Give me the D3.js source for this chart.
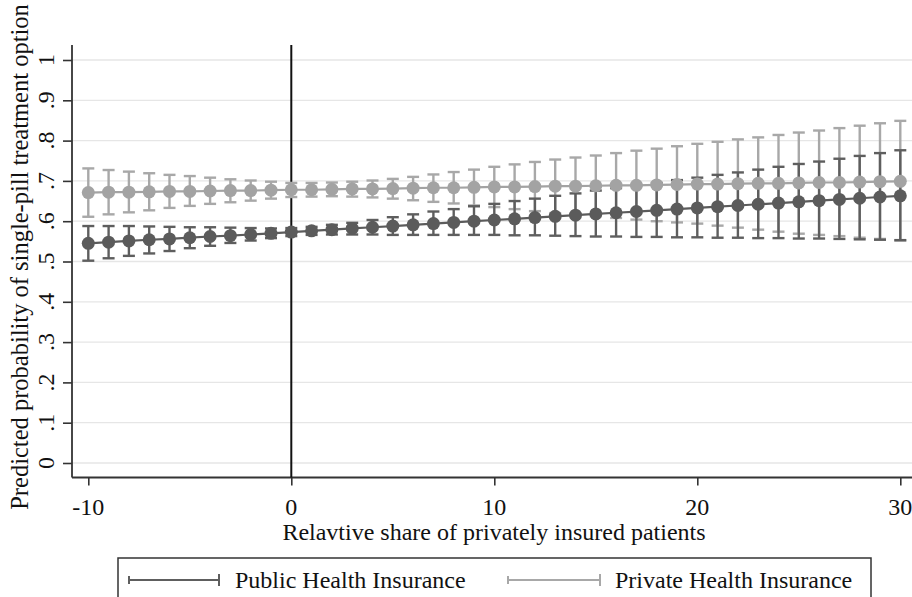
<!DOCTYPE html>
<meta charset="utf-8">
<head>
<style>
  body { margin: 0; background: #fff; }
  svg text { font-family: "Liberation Serif", "Times New Roman", serif; fill: #111; }
</style>
</head>
<body>
<div id="chart"></div>
<script src="https://d3js.org/d3.v7.min.js"></script>
<script>
// x values: relative share of privately insured patients
var shares = d3.range(-10, 31);

// Public Health Insurance (dark)
var publicMean = [.545,.548,.551,.554,.556,.559,.562,.564,.567,.570,
                  .573,.576,.579,.582,.585,.588,.591,.594,.597,.600,
                  .603,.606,.609,.612,.615,.618,.621,.624,.627,.630,
                  .633,.636,.639,.642,.645,.648,.651,.654,.657,.660,.663];
var publicLow  = [.502,.508,.514,.520,.526,.533,.539,.546,.552,.558,
                  .563,.566,.567,.567,.567,.566,.566,.566,.566,.566,
                  .566,.565,.565,.564,.563,.562,.562,.561,.561,.560,
                  .560,.559,.559,.558,.558,.557,.557,.556,.555,.554,.553];
var publicHigh = [.588,.588,.588,.587,.586,.585,.585,.584,.583,.582,
                  .583,.586,.591,.596,.603,.610,.617,.624,.630,.637,
                  .643,.650,.656,.663,.669,.676,.682,.689,.695,.702,
                  .708,.715,.721,.728,.735,.742,.748,.755,.762,.769,.776];

// Private Health Insurance (light)
var privateMean = [.671,.672,.672,.673,.674,.674,.675,.676,.676,.677,
                   .678,.678,.679,.680,.680,.681,.682,.683,.683,.684,
                   .685,.685,.686,.687,.687,.688,.689,.689,.690,.691,
                   .692,.692,.693,.694,.694,.695,.696,.696,.697,.698,.699];
var privateLow  = [.611,.617,.622,.627,.633,.638,.643,.647,.651,.656,
                   .660,.661,.662,.661,.659,.656,.652,.648,.644,.639,
                   .635,.630,.625,.620,.616,.612,.608,.604,.600,.597,
                   .594,.589,.584,.579,.574,.569,.566,.563,.559,.556,.552];
var privateHigh = [.731,.727,.723,.719,.715,.712,.708,.704,.701,.698,
                   .695,.695,.696,.698,.701,.705,.710,.716,.722,.728,
                   .735,.741,.747,.753,.758,.763,.769,.775,.780,.786,
                   .792,.797,.803,.808,.814,.820,.825,.831,.837,.843,.849];

var yTicks = [0, .1, .2, .3, .4, .5, .6, .7, .8, .9, 1];
var yTickLabels = ["0", ".1", ".2", ".3", ".4", ".5", ".6", ".7", ".8", ".9", "1"];
var xTicks = [-10, 0, 10, 20, 30];
var seriesNames = ["Public Health Insurance", "Private Health Insurance"];

var W = 912, H = 597;
var plot = {left: 72, top: 45, bottom: 477.5, right: 912};
var fs = "24px";

var series = [
  {name: seriesNames[0], mean: publicMean, low: publicLow, high: publicHigh, color: "#5b5b5b", ci: "#5e5e5e"},
  {name: seriesNames[1], mean: privateMean, low: privateLow, high: privateHigh, color: "#a3a3a3", ci: "#a8a8a8"}
];

var svg = d3.select("#chart").append("svg")
  .attr("width", W).attr("height", H);

var x = d3.scaleLinear().domain([-10, 30]).range([88.3, 900.3]);
var y = d3.scaleLinear().domain([0, 1]).range([463, 60]);

// gridlines
svg.append("g").selectAll("line")
  .data(yTicks)
  .enter().append("line")
    .attr("x1", plot.left).attr("x2", plot.right)
    .attr("y1", function(d) { return y(d); })
    .attr("y2", function(d) { return y(d); })
    .attr("stroke", "#e6e6e6")
    .attr("stroke-width", 1.3);

// y axis
var yAxis = svg.append("g")
  .attr("transform", "translate(" + plot.left + ",0)")
  .call(d3.axisLeft(y).tickValues(yTicks).tickSize(9).tickFormat(""));
yAxis.select(".domain").remove();
yAxis.selectAll(".tick line").attr("stroke", "#333").attr("stroke-width", 1.6);
svg.append("line")
  .attr("x1", plot.left).attr("x2", plot.left)
  .attr("y1", plot.top).attr("y2", plot.bottom)
  .attr("stroke", "#333").attr("stroke-width", 1.8);

svg.append("g").selectAll("text")
  .data(yTicks)
  .enter().append("text")
    .attr("transform", function(d) { return "translate(54," + y(d) + ") rotate(-90)"; })
    .attr("text-anchor", "middle")
    .style("font-size", fs)
    .text(function(d, i) { return yTickLabels[i]; });

// x axis
var xAxis = svg.append("g")
  .attr("transform", "translate(0," + plot.bottom + ")")
  .call(d3.axisBottom(x).tickValues(xTicks).tickSize(8).tickFormat(""));
xAxis.select(".domain").remove();
xAxis.selectAll(".tick line").attr("stroke", "#333").attr("stroke-width", 1.6);
svg.append("line")
  .attr("x1", plot.left).attr("x2", plot.right)
  .attr("y1", plot.bottom).attr("y2", plot.bottom)
  .attr("stroke", "#333").attr("stroke-width", 1.8);

svg.append("g").selectAll("text")
  .data(xTicks)
  .enter().append("text")
    .attr("x", function(d) { return x(d); })
    .attr("y", 515)
    .attr("text-anchor", "middle")
    .style("font-size", fs)
    .text(function(d) { return d; });

// axis titles
svg.append("text")
  .attr("x", (plot.left + plot.right) / 2 + 2)
  .attr("y", 540)
  .attr("text-anchor", "middle")
  .style("font-size", fs)
  .text("Relavtive share of privately insured patients");

svg.append("text")
  .attr("transform", "translate(28," + 257 + ") rotate(-90)")
  .attr("text-anchor", "middle")
  .style("font-size", "24.5px")
  .text("Predicted probability of single-pill treatment option");

// reference line at 0
svg.append("line")
  .attr("x1", x(0)).attr("x2", x(0))
  .attr("y1", plot.top).attr("y2", plot.bottom)
  .attr("stroke", "#111").attr("stroke-width", 2);

// confidence intervals (private first, public drawn over it)
var capHalf = 6;
[series[1], series[0]].forEach(function(s) {
  var g = svg.append("g").attr("stroke", s.ci).attr("fill", "none");
  g.selectAll("line.v")
    .data(shares)
    .enter().append("line")
      .attr("class", "v")
      .attr("x1", function(d) { return x(d); })
      .attr("x2", function(d) { return x(d); })
      .attr("y1", function(d, i) { return y(s.low[i]); })
      .attr("y2", function(d, i) { return y(s.high[i]); })
      .attr("stroke-width", 2.4);
  g.selectAll("line.lo")
    .data(shares)
    .enter().append("line")
      .attr("class", "lo")
      .attr("x1", function(d) { return x(d) - capHalf; })
      .attr("x2", function(d) { return x(d) + capHalf; })
      .attr("y1", function(d, i) { return y(s.low[i]); })
      .attr("y2", function(d, i) { return y(s.low[i]); })
      .attr("stroke-width", 2.4);
  g.selectAll("line.hi")
    .data(shares)
    .enter().append("line")
      .attr("class", "hi")
      .attr("x1", function(d) { return x(d) - capHalf; })
      .attr("x2", function(d) { return x(d) + capHalf; })
      .attr("y1", function(d, i) { return y(s.high[i]); })
      .attr("y2", function(d, i) { return y(s.high[i]); })
      .attr("stroke-width", 2.4);
});

// connected lines and markers
var line = d3.line()
  .x(function(d) { return x(d[0]); })
  .y(function(d) { return y(d[1]); });

series.forEach(function(s) {
  var pts = shares.map(function(d, i) { return [d, s.mean[i]]; });
  svg.append("path")
    .attr("d", line(pts))
    .attr("stroke", s.color)
    .attr("stroke-width", 2.2)
    .attr("fill", "none");
  svg.append("g").selectAll("circle")
    .data(pts)
    .enter().append("circle")
      .attr("cx", function(d) { return x(d[0]); })
      .attr("cy", function(d) { return y(d[1]); })
      .attr("r", 6.5)
      .attr("fill", s.color);
});

// legend
var legend = svg.append("g");
legend.append("rect")
  .attr("x", 118).attr("y", 558)
  .attr("width", 753).attr("height", 60)
  .attr("fill", "#fff")
  .attr("stroke", "#333").attr("stroke-width", 1.5);

var legendItems = [
  {x0: 129, x1: 219, tx: 235},
  {x0: 508, x1: 600, tx: 615}
];
legendItems.forEach(function(it, i) {
  var s = series[i];
  legend.append("line")
    .attr("x1", it.x0).attr("x2", it.x1).attr("y1", 580).attr("y2", 580)
    .attr("stroke", s.ci).attr("stroke-width", 2);
  legend.append("line")
    .attr("x1", it.x1).attr("x2", it.x1).attr("y1", 574).attr("y2", 586)
    .attr("stroke", s.ci).attr("stroke-width", 2);
  legend.append("line")
    .attr("x1", it.x0).attr("x2", it.x0).attr("y1", 576).attr("y2", 584)
    .attr("stroke", s.ci).attr("stroke-width", 2);
  legend.append("text")
    .attr("x", it.tx).attr("y", 588)
    .style("font-size", fs)
    .text(s.name);
});
</script>
</body>
